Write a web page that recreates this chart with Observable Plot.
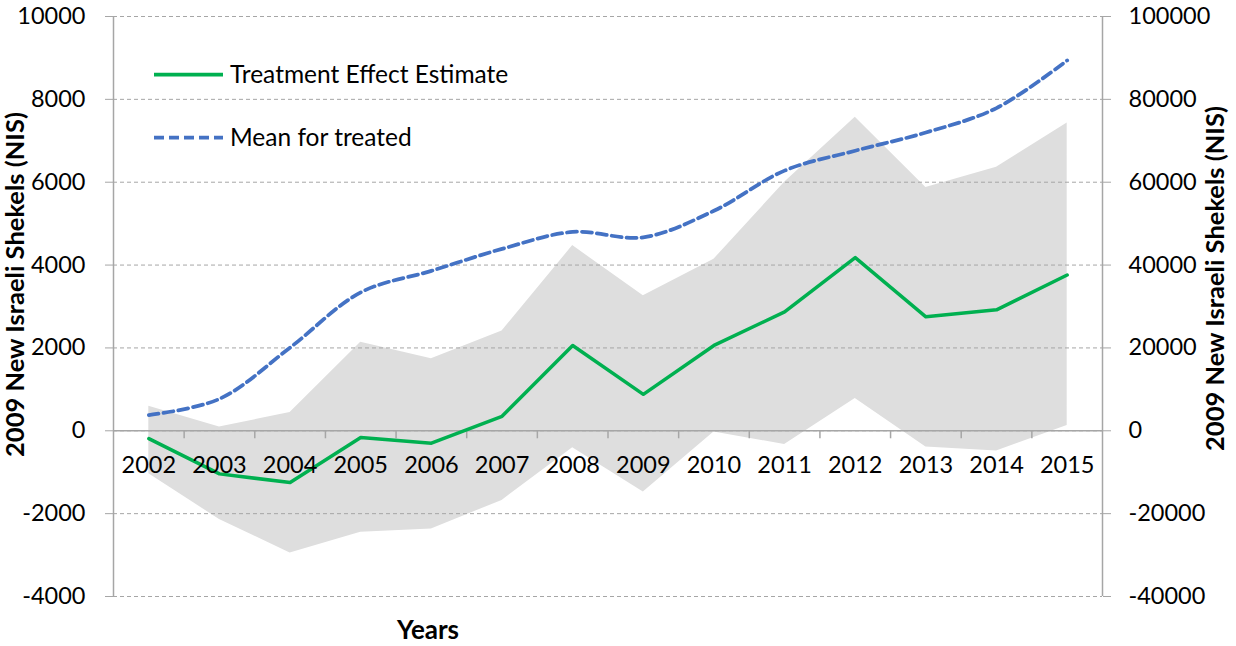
<!DOCTYPE html>
<html>
<head>
<meta charset="utf-8">
<script src="https://cdn.jsdelivr.net/npm/d3@7"></script>
<script src="https://cdn.jsdelivr.net/npm/@observablehq/plot@0.6"></script>
<style>
  html, body { margin: 0; padding: 0; background: white; overflow: hidden; }
  #wrap { position: relative; width: 1236px; height: 646px; }
  #legend { position: absolute; left: 0; top: 0; pointer-events: none; }
</style>
</head>
<body>
<div id="wrap"></div>
<script>
// ---- data ----
const years = [2002, 2003, 2004, 2005, 2006, 2007, 2008, 2009, 2010, 2011, 2012, 2013, 2014, 2015];
const treatmentEffect = [-190, -1040, -1250, -160, -300, 350, 2060, 880, 2060, 2870, 4180, 2750, 2920, 3760];
const ciUpper = [590, 90, 440, 2140, 1740, 2410, 4470, 3260, 4140, 6000, 7570, 5870, 6360, 7430];
const ciLower = [-1040, -2140, -2950, -2450, -2370, -1680, -410, -1480, -30, -330, 780, -390, -490, 130];
const meanTreated = [3800, 7700, 20100, 33400, 38600, 43900, 48000, 46700, 53100, 62800, 67600, 72000, 77900, 89400];
const leftTicks = [-4000, -2000, 0, 2000, 4000, 6000, 8000, 10000];
const rightTicks = [-40000, -20000, 0, 20000, 40000, 60000, 80000, 100000];
const rightRatio = 10; // right axis = 10 x left axis
const seriesNames = ["Treatment Effect Estimate", "Mean for treated"];
const yTitle = "2009 New Israeli Shekels (NIS)";
const xTitle = "Years";

const rows = years.map((year, i) => ({
  year, effect: treatmentEffect[i], upper: ciUpper[i], lower: ciLower[i], mean: meanTreated[i]
}));
const boundaries = years.slice(0, -1).map(y => y + 0.5);
const xEdges = [years[0] - 0.5, years[years.length - 1] + 0.5];

const GREEN = "#00b050", BLUE = "#4472c4", BAND = "#dedede", AXIS = "#a6a6a6";
const FONT = "Lato, 'Open Sans', sans-serif";
const TICK_FS = 23.5;
const TITLE_FS = 25.5;

const chart = Plot.plot({
  width: 1236,
  height: 646,
  marginLeft: 113,
  marginRight: 134,
  marginTop: 16,
  marginBottom: 50,
  style: { fontFamily: FONT, fontSize: "23px", color: "black", background: "white", overflow: "visible" },
  x: { type: "linear", domain: xEdges, axis: null },
  y: { domain: [leftTicks[0], leftTicks[leftTicks.length - 1]], axis: null },
  marks: [
    Plot.areaY(rows, { x: "year", y1: "lower", y2: "upper", fill: BAND }),
    Plot.gridY({ ticks: leftTicks, stroke: AXIS, strokeOpacity: 1, strokeWidth: 1, strokeDasharray: "4,3" }),
    Plot.ruleY([0], { stroke: AXIS, strokeWidth: 1.5 }),
    Plot.ruleX(xEdges, { stroke: AXIS, strokeWidth: 1.5 }),
    Plot.ruleX(boundaries, { x: d => d, y1: 0, y2: 0, insetBottom: -8, stroke: AXIS, strokeWidth: 1.5 }),
    Plot.axisY({ anchor: "left", ticks: leftTicks, tickSize: 8, tickPadding: 20, stroke: AXIS, fill: "black",
      fontSize: TICK_FS, tickFormat: d => String(d) }),
    Plot.axisY({ anchor: "right", ticks: rightTicks.map(v => v / rightRatio), tickSize: 8, tickPadding: 18,
      stroke: AXIS, fill: "black", fontSize: TICK_FS, tickFormat: d => String(Math.round(d * rightRatio)) }),
    Plot.line(rows, { x: "year", y: d => d.mean / rightRatio, stroke: BLUE, strokeWidth: 3.75,
      strokeDasharray: "10,5", curve: "catmull-rom" }),
    Plot.line(rows, { x: "year", y: "effect", stroke: GREEN, strokeWidth: 3.5 }),
    Plot.text(years, { x: d => d, y: 0, dy: 35, text: d => String(d), fontSize: TICK_FS, fill: "black" }),
    Plot.text([yTitle], { frameAnchor: "left", dx: -98, dy: -22, rotate: -90, textAnchor: "middle",
      lineAnchor: "middle", fontWeight: "bold", fontSize: TITLE_FS, fill: "black" }),
    Plot.text([yTitle], { frameAnchor: "right", dx: 113, dy: -28, rotate: -90, textAnchor: "middle",
      lineAnchor: "middle", fontWeight: "bold", fontSize: TITLE_FS, fill: "black" }),
    Plot.text([xTitle], { frameAnchor: "bottom", dx: -180, dy: 34, textAnchor: "middle",
      lineAnchor: "middle", fontWeight: "bold", fontSize: 26, fill: "black" })
  ]
});

const wrap = document.getElementById("wrap");
wrap.appendChild(chart);

// ---- legend overlay (inside plot area, top-left) ----
const ns = "http://www.w3.org/2000/svg";
const leg = document.createElementNS(ns, "svg");
leg.setAttribute("id", "legend");
leg.setAttribute("width", 1236);
leg.setAttribute("height", 646);
const items = [
  { name: seriesNames[0], color: GREEN, dash: null, y: 74.5 },
  { name: seriesNames[1], color: BLUE, dash: "10,5", y: 137.5 }
];
items.forEach(it => {
  const ln = document.createElementNS(ns, "line");
  ln.setAttribute("x1", 154); ln.setAttribute("x2", 223);
  ln.setAttribute("y1", it.y); ln.setAttribute("y2", it.y);
  ln.setAttribute("stroke", it.color); ln.setAttribute("stroke-width", 3.75);
  if (it.dash) ln.setAttribute("stroke-dasharray", it.dash);
  leg.appendChild(ln);
  const tx = document.createElementNS(ns, "text");
  tx.setAttribute("x", 230); tx.setAttribute("y", it.y);
  tx.setAttribute("dy", "0.35em");
  tx.setAttribute("font-family", FONT);
  tx.setAttribute("font-size", 24.5);
  tx.setAttribute("fill", "black");
  tx.textContent = it.name;
  leg.appendChild(tx);
});
wrap.appendChild(leg);
</script>
</body>
</html>
